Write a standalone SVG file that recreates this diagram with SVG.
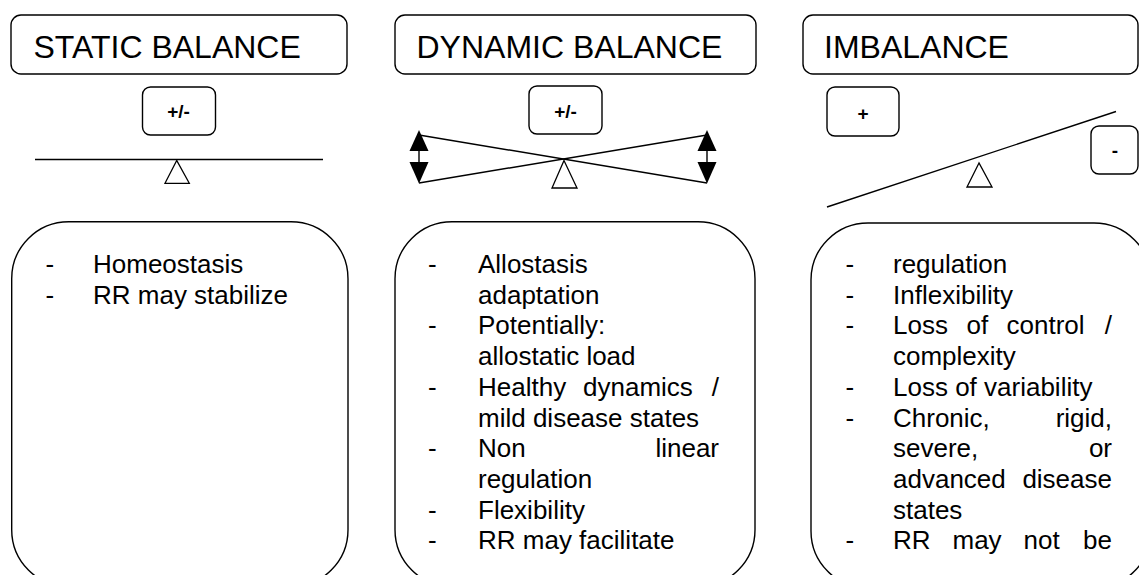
<svg xmlns="http://www.w3.org/2000/svg" width="1139" height="575" viewBox="0 0 1139 575">
<style>
.box{fill:#fff;stroke:#000;stroke-width:1.4}
.title{font-family:"Liberation Sans",Arial,sans-serif;font-size:32px;fill:#000}
.sign{font-family:"Liberation Sans",Arial,sans-serif;font-size:19px;font-weight:bold;fill:#000;text-anchor:middle}
.body{font-family:"Liberation Sans",Arial,sans-serif;font-size:26px;fill:#000}
.end{text-anchor:end}
.beam{stroke:#000;stroke-width:1.4;fill:none}
.tri{fill:#fff;stroke:#000;stroke-width:1.3}
.arr{fill:#000;stroke:none}
</style>
<rect width="1139" height="575" fill="#fff"/>

<g id="static-title">
<rect class="box" x="11" y="15" width="336" height="59" rx="10"/>
<text class="title" x="33.5" y="57.5">STATIC BALANCE</text>
</g>
<g id="dynamic-title">
<rect class="box" x="395" y="15" width="361" height="59" rx="10"/>
<text class="title" x="416.5" y="57.5">DYNAMIC BALANCE</text>
</g>
<g id="imbalance-title">
<rect class="box" x="803" y="15" width="335" height="59" rx="10"/>
<text class="title" x="824" y="57.5">IMBALANCE</text>
</g>

<g id="static-sign">
<rect class="box" x="142.5" y="87" width="73" height="48" rx="8"/>
<text class="sign" x="178.5" y="118">+/-</text>
</g>
<g id="dynamic-sign">
<rect class="box" x="529" y="86" width="73" height="48" rx="8"/>
<text class="sign" x="565.5" y="117.5">+/-</text>
</g>
<g id="imbalance-plus">
<rect class="box" x="827" y="87" width="72" height="49" rx="8"/>
<text class="sign" x="863" y="120">+</text>
</g>
<g id="imbalance-minus">
<rect class="box" x="1091" y="126" width="47" height="48" rx="8"/>
<text class="sign" x="1115" y="157">-</text>
</g>

<g id="connectors">
<line class="beam" x1="35" y1="159.5" x2="323" y2="159.5"/>
<polygon class="tri" points="176.7,160.5 165,183.3 189.3,183.3"/>

<line class="beam" x1="419" y1="135" x2="707" y2="183"/>
<line class="beam" x1="419" y1="183" x2="707" y2="135"/>
<polygon class="tri" points="564,160.5 552,188 577,188"/>
<polygon class="arr" points="419,130 409.5,151 428.5,151"/>
<line class="beam" x1="419" y1="150" x2="419" y2="163" stroke-width="2"/>
<polygon class="arr" points="409.5,162 428.5,162 419,183.5"/>
<polygon class="arr" points="707,130 697.5,151 716.5,151"/>
<line class="beam" x1="707" y1="150" x2="707" y2="163" stroke-width="2"/>
<polygon class="arr" points="697.5,162 716.5,162 707,183.5"/>

<line class="beam" x1="827" y1="207" x2="1116" y2="111.5"/>
<polygon class="tri" points="979,163 967,187 992,187"/>
</g>

<g id="static-body">
<rect class="box" x="11.7" y="221.7" width="336.3" height="365" rx="57"/>
<text class="body" x="45.5" y="273">-</text>
<text class="body" x="93" y="273">Homeostasis</text>
<text class="body" x="45.5" y="303.7">-</text>
<text class="body" x="93" y="303.7">RR may stabilize</text>
</g>

<g id="dynamic-body">
<rect class="box" x="395" y="221.7" width="360" height="365" rx="57"/>
<text class="body" x="428" y="273">-</text>
<text class="body" x="478" y="273">Allostasis</text>
<text class="body" x="478" y="303.7">adaptation</text>
<text class="body" x="428" y="334.4">-</text>
<text class="body" x="478" y="334.4">Potentially:</text>
<text class="body" x="478" y="365.1">allostatic load</text>
<text class="body" x="428" y="395.8">-</text>
<text class="body" y="395.8"><tspan x="478">Healthy</tspan><tspan x="583">dynamics</tspan></text>
<text class="body end" x="719" y="395.8">/</text>
<text class="body" x="478" y="426.5">mild disease states</text>
<text class="body" x="428" y="457.2">-</text>
<text class="body" x="478" y="457.2">Non</text>
<text class="body end" x="719" y="457.2">linear</text>
<text class="body" x="478" y="487.9">regulation</text>
<text class="body" x="428" y="518.6">-</text>
<text class="body" x="478" y="518.6">Flexibility</text>
<text class="body" x="428" y="549.3">-</text>
<text class="body" x="478" y="549.3">RR may facilitate</text>
</g>

<g id="imbalance-body">
<rect class="box" x="811" y="223" width="340" height="365" rx="57"/>
<text class="body" x="845.5" y="273">-</text>
<text class="body" x="893" y="273">regulation</text>
<text class="body" x="845.5" y="303.7">-</text>
<text class="body" x="893" y="303.7">Inflexibility</text>
<text class="body" x="845.5" y="334.4">-</text>
<text class="body" y="334.4"><tspan x="893">Loss</tspan><tspan x="966.5">of</tspan><tspan x="1006.5">control</tspan></text>
<text class="body end" x="1112" y="334.4">/</text>
<text class="body" x="893" y="365.1">complexity</text>
<text class="body" x="845.5" y="395.8">-</text>
<text class="body" x="893" y="395.8">Loss of variability</text>
<text class="body" x="845.5" y="426.5">-</text>
<text class="body" x="893" y="426.5">Chronic,</text>
<text class="body end" x="1112" y="426.5">rigid,</text>
<text class="body" x="893" y="457.2">severe,</text>
<text class="body end" x="1112" y="457.2">or</text>
<text class="body" x="893" y="487.9">advanced</text>
<text class="body end" x="1112" y="487.9">disease</text>
<text class="body" x="893" y="518.6">states</text>
<text class="body" x="845.5" y="549.3">-</text>
<text class="body" y="549.3"><tspan x="893">RR</tspan><tspan x="952.5">may</tspan><tspan x="1023.5">not</tspan></text>
<text class="body end" x="1112" y="549.3">be</text>
</g>
</svg>
